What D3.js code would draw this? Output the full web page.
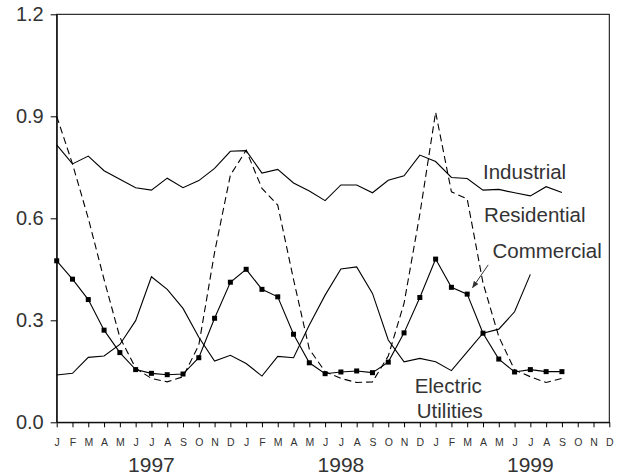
<!DOCTYPE html>
<html>
<head>
<meta charset="utf-8">
<script src="https://cdn.jsdelivr.net/npm/d3@7"></script>
<style>
  body { margin: 0; background: #fff; }
  svg text { font-family: "Liberation Sans", Arial, sans-serif; fill: #333; }
</style>
</head>
<body>
<div id="chart"></div>
<script>
// Monthly values, Jan 1997 .. Dec 1999 (null = no data)
const months = ["J", "F", "M", "A", "M", "J", "J", "A", "S", "O", "N", "D"];
const years = ["1997", "1998", "1999"];
const yTicks = [0, 0.3, 0.6, 0.9, 1.2];

const industrial = [
  0.816, 0.760, 0.783, 0.740, 0.715, 0.690, 0.683, 0.718, 0.690, 0.711, 0.747, 0.797,
  0.799, 0.733, 0.744, 0.704, 0.680, 0.652, 0.698, 0.698, 0.675, 0.712, 0.725, 0.786,
  0.767, 0.720, 0.717, 0.683, 0.685, 0.675, 0.666, 0.693, 0.676, null, null, null
];
const residential = [
  0.900, 0.760, 0.600, 0.420, 0.250, 0.159, 0.129, 0.119, 0.134, 0.227, 0.500, 0.727,
  0.800, 0.688, 0.639, 0.420, 0.215, 0.149, 0.129, 0.117, 0.119, 0.195, 0.350, 0.612,
  0.912, 0.678, 0.657, 0.410, 0.252, 0.154, 0.134, 0.117, 0.129, null, null, null
];
const commercial = [
  0.475, 0.421, 0.361, 0.271, 0.205, 0.155, 0.144, 0.140, 0.142, 0.190, 0.306, 0.412,
  0.450, 0.391, 0.369, 0.259, 0.175, 0.143, 0.148, 0.151, 0.146, 0.177, 0.263, 0.367,
  0.480, 0.397, 0.377, 0.262, 0.186, 0.148, 0.155, 0.149, 0.149, null, null, null
];
const electric = [
  0.139, 0.144, 0.191, 0.195, 0.229, 0.299, 0.428, 0.391, 0.335, 0.250, 0.180, 0.197,
  0.173, 0.136, 0.194, 0.190, 0.286, 0.374, 0.451, 0.457, 0.379, 0.242, 0.178, 0.188,
  0.178, 0.152, 0.207, 0.262, 0.274, 0.325, 0.435, null, null, null, null, null
];

const width = 625;
const height = 476;
const margin = { top: 14.3, right: 15.7, bottom: 53.7, left: 56.7 };

const svg = d3.select('#chart').append('svg')
  .attr('width', width)
  .attr('height', height);

const x = d3.scaleLinear().domain([0, 35]).range([margin.left, width - margin.right]);
const y = d3.scaleLinear().domain([0, 1.2]).range([height - margin.bottom, margin.top]);

// frame
svg.append('rect')
  .attr('x', x(0)).attr('y', y(1.2))
  .attr('width', x(35) - x(0)).attr('height', y(0) - y(1.2))
  .attr('fill', 'none').attr('stroke', '#000').attr('stroke-width', 1);

// y axis
const yAxis = svg.append('g')
  .attr('transform', `translate(${x(0)},0)`)
  .call(d3.axisLeft(y).tickValues(yTicks).tickFormat(d3.format('.1f')).tickSize(6).tickSizeOuter(0).tickPadding(7));
yAxis.select('.domain').attr('stroke', '#000');
yAxis.selectAll('.tick line').attr('stroke', '#000');
yAxis.selectAll('text').style('font-size', '20px').attr('fill', '#222');

// x axis
const xAxis = svg.append('g')
  .attr('transform', `translate(0,${y(0)})`)
  .call(d3.axisBottom(x).tickValues(d3.range(36)).tickFormat(i => months[i % 12]).tickSize(5).tickSizeOuter(0).tickPadding(11.5));
xAxis.select('.domain').attr('stroke', '#000');
xAxis.selectAll('.tick line').attr('stroke', '#000');
xAxis.selectAll('text').style('font-size', '10.5px').attr('fill', '#222');

svg.selectAll('.year')
  .data(years)
  .enter().append('text')
  .attr('class', 'year')
  .attr('x', (d, i) => x(i * 12 + 6))
  .attr('y', y(0) + 49.5)
  .attr('text-anchor', 'middle')
  .style('font-size', '21px')
  .attr('fill', '#4a4a4a')
  .text(d => d);

// series
const line = d3.line()
  .defined(d => d != null)
  .x((d, i) => x(i))
  .y(d => y(d));

function drawSeries(values, dash) {
  svg.append('path')
    .datum(values)
    .attr('fill', 'none')
    .attr('stroke', '#000')
    .attr('stroke-width', 1.1)
    .attr('stroke-dasharray', dash)
    .attr('d', line);
}

drawSeries(industrial, null);
drawSeries(electric, null);
drawSeries(residential, '7,4');
drawSeries(commercial, null);

svg.selectAll('.marker')
  .data(commercial.map((v, i) => ({ v, i })).filter(d => d.v != null))
  .enter().append('rect')
  .attr('class', 'marker')
  .attr('x', d => x(d.i) - 2.5)
  .attr('y', d => y(d.v) - 2.5)
  .attr('width', 5)
  .attr('height', 5)
  .attr('fill', '#000');

// labels
const labelSize = '20.5px';
function label(txt, xi, yv, anchor) {
  svg.append('text')
    .attr('x', x(xi)).attr('y', y(yv))
    .attr('text-anchor', anchor || 'start')
    .style('font-size', labelSize)
    .attr('fill', '#404040')
    .text(txt);
}
label('Industrial', 27.0, 0.716);
label('Residential', 27.07, 0.588);
label('Commercial', 27.6, 0.482);
label('Electric', 24.8, 0.087, 'middle');
label('Utilities', 24.9, 0.012, 'middle');

// arrow for Commercial
svg.append('defs').append('marker')
  .attr('id', 'arrow')
  .attr('viewBox', '0 0 10 10')
  .attr('refX', 9).attr('refY', 5)
  .attr('markerWidth', 7).attr('markerHeight', 7)
  .attr('orient', 'auto')
  .append('path')
  .attr('d', 'M0,1 L10,5 L0,9 Z')
  .attr('fill', '#333');

svg.append('line')
  .attr('x1', x(27.33)).attr('y1', y(0.463))
  .attr('x2', x(26.34)).attr('y2', y(0.396))
  .attr('stroke', '#333')
  .attr('stroke-width', 1)
  .attr('marker-end', 'url(#arrow)');
</script>
</body>
</html>
